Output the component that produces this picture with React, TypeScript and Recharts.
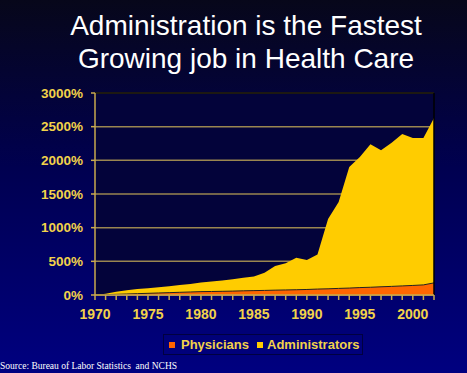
import React from "react";
import { AreaChart, Area, XAxis, YAxis, CartesianGrid, ReferenceLine } from "recharts";

// ─── Data (percent growth since 1970) ───────────────────────

const YEARS = [
  1970, 1971, 1972, 1973, 1974, 1975, 1976, 1977, 1978, 1979, 1980, 1981, 1982, 1983, 1984, 1985, 1986,
  1987, 1988, 1989, 1990, 1991, 1992, 1993, 1994, 1995, 1996, 1997, 1998, 1999, 2000, 2001, 2002,
];

const ADMINISTRATORS = [
  0, 20, 50, 70, 90, 100, 115, 130, 150, 165, 185, 200, 215, 235, 255, 275, 330,
  430, 470, 555, 520, 600, 1130, 1380, 1900, 2050, 2240, 2150, 2260, 2390, 2330, 2330, 2630,
];

const PHYSICIANS = [
  0, 5, 10, 15, 20, 25, 30, 35, 40, 45, 50, 52, 55, 58, 62, 65, 68,
  72, 75, 78, 82, 88, 92, 98, 103, 110, 115, 122, 128, 135, 142, 150, 180,
];

const Y_TICKS = [0, 500, 1000, 1500, 2000, 2500, 3000];

const data = YEARS.map((year, i) => ({
  year,
  administrators: ADMINISTRATORS[i],
  physicians: PHYSICIANS[i],
}));

const GOLD = "#c9aa4e";
const GRID = "#9a8650";
const LABEL = "#f2d24a";
const YELLOW = "#ffcc00";
const ORANGE = "#ff6600";

const FONT = "'Liberation Sans', Arial, sans-serif";

// year tick: short gold mark below the axis, label only every 5 years
function YearTick(props: any) {
  const { x, y, payload } = props;
  const axisY = y - 12;
  return (
    <g>
      <line x1={x} x2={x} y1={axisY} y2={axisY + 5} stroke={GOLD} strokeWidth={1.5} />
      {payload.value % 5 === 0 && (
        <text x={x} y={axisY + 24} textAnchor="middle" fill={LABEL} fontSize={14} fontWeight={700} fontFamily={FONT}>
          {payload.value}
        </text>
      )}
    </g>
  );
}

export default function App() {
  return (
    <div
      style={{
        position: "fixed",
        left: 0,
        top: 0,
        width: 467,
        height: 373,
        overflow: "hidden",
        background: "linear-gradient(to bottom, #07071a 0%, #000050 45%, #000080 100%)",
        fontFamily: FONT,
      }}
    >
      <div
        style={{
          position: "absolute",
          left: 0,
          top: 9,
          width: 492,
          textAlign: "center",
          color: "#fff",
          fontSize: 28,
          lineHeight: "33px",
        }}
      >
        Administration is the Fastest
        <br />
        Growing job in Health Care
      </div>

      <div style={{ position: "absolute", left: 0, top: 0 }}>
        <AreaChart width={467} height={373} data={data} margin={{ top: 93, right: 33, bottom: 56, left: 35 }}>
          <CartesianGrid vertical={false} stroke={GRID} strokeWidth={1.5} fill="#03033a" />
          <XAxis
            dataKey="year"
            type="number"
            domain={[1970, 2002]}
            ticks={YEARS}
            interval={0}
            axisLine={{ stroke: GOLD, strokeWidth: 1.5 }}
            tickLine={false}
            tickSize={5}
            tickMargin={7}
            tick={<YearTick />}
            height={22}
          />
          <YAxis
            domain={[0, 3000]}
            ticks={Y_TICKS}
            interval={0}
            tickFormatter={(v: number) => `${v}%`}
            axisLine={{ stroke: GOLD, strokeWidth: 1.5 }}
            tickLine={{ stroke: GOLD, strokeWidth: 1.5 }}
            tickSize={4}
            tickMargin={8}
            tick={{ fill: LABEL, fontSize: 13.5, fontWeight: 700, fontFamily: FONT }}
            width={60}
          />
          <ReferenceLine y={3000} stroke="#000" strokeWidth={1.5} />
          <ReferenceLine x={2002} stroke="#000" strokeWidth={1.5} />
          <Area
            type="linear"
            dataKey="administrators"
            fill={YELLOW}
            fillOpacity={1}
            stroke="none"
            isAnimationActive={false}
          />
          <Area
            type="linear"
            dataKey="physicians"
            fill={ORANGE}
            fillOpacity={1}
            stroke="#222"
            strokeWidth={1}
            isAnimationActive={false}
          />
        </AreaChart>
      </div>

      <div
        style={{
          position: "absolute",
          left: 163,
          top: 334,
          width: 198,
          height: 19,
          border: "1px solid #000040",
          color: LABEL,
          fontSize: 13,
          fontWeight: 700,
        }}
      >
        <span style={{ position: "absolute", left: 5, top: 7, width: 6, height: 6, background: ORANGE }} />
        <span style={{ position: "absolute", left: 17, top: 2, lineHeight: "15px" }}>Physicians</span>
        <span style={{ position: "absolute", left: 93, top: 7, width: 6, height: 6, background: YELLOW }} />
        <span style={{ position: "absolute", left: 103, top: 2, lineHeight: "15px" }}>Administrators</span>
      </div>

      <div
        style={{
          position: "absolute",
          left: 0,
          top: 361,
          color: "#fff",
          fontSize: 9.5,
          lineHeight: "11px",
          fontFamily: "'Liberation Serif', 'Times New Roman', serif",
          whiteSpace: "pre",
        }}
      >
        Source: Bureau of Labor Statistics  and NCHS
      </div>
    </div>
  );
}
